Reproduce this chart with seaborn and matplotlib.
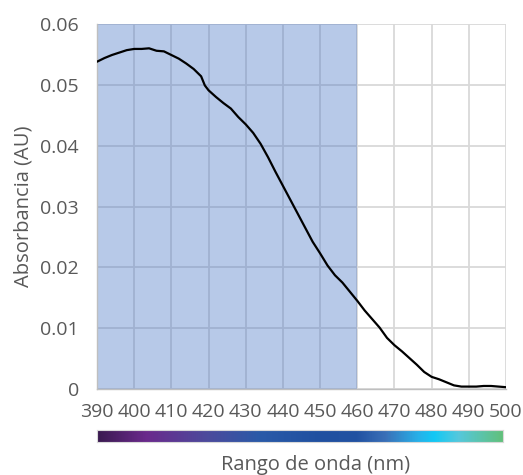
import numpy as np
import pandas as pd
import matplotlib
matplotlib.use("Agg")
import matplotlib.pyplot as plt
from matplotlib.colors import LinearSegmentedColormap
from matplotlib.ticker import MultipleLocator
import seaborn as sns

# data
wavelength = [390, 392, 394, 396, 398, 400, 402, 404, 406, 408, 410, 412, 414, 416,
              418, 419, 420, 422, 424, 426, 428, 430, 432, 434, 436, 438, 440, 442,
              444, 446, 448, 450, 452, 454, 456, 458, 460, 462, 464, 466, 468, 470,
              472, 474, 476, 478, 480, 482, 484, 486, 488, 490, 492, 494, 496, 498, 500]
absorbance = [0.0538, 0.0544, 0.0549, 0.0553, 0.0557, 0.0559, 0.0559, 0.0560, 0.0556,
              0.0555, 0.0549, 0.0543, 0.0535, 0.0526, 0.0514, 0.0499, 0.0491, 0.0480,
              0.0470, 0.0461, 0.0447, 0.0435, 0.0421, 0.0403, 0.0381, 0.0357, 0.0334,
              0.0311, 0.0288, 0.0265, 0.0242, 0.0223, 0.0203, 0.0187, 0.0175, 0.0160,
              0.0145, 0.0129, 0.0115, 0.0101, 0.0084, 0.0072, 0.0062, 0.0051, 0.0040,
              0.0028, 0.0020, 0.0016, 0.0011, 0.0006, 0.0004, 0.0004, 0.0004, 0.0005,
              0.0005, 0.0004, 0.0003]

shade_range = (390, 460)
x_ticks = [390, 400, 410, 420, 430, 440, 450, 460, 470, 480, 490, 500]
y_ticks = [0, 0.01, 0.02, 0.03, 0.04, 0.05, 0.06]
y_labels = ["0", "0.01", "0.02", "0.03", "0.04", "0.05", "0.06"]

# visible spectrum strip under the axis
strip_pos = [0.0, 0.12, 0.27, 0.40, 0.55, 0.64, 0.71, 0.79, 0.83, 0.89, 1.0]
strip_colors = ["#3a1a50", "#6a2a8c", "#4c4a9c", "#2a5aa8", "#2050a0", "#2252a2",
                "#3a70b8", "#28b0e8", "#12c8f5", "#55c8dc", "#62c07a"]

df = pd.DataFrame({"wl": wavelength, "A": absorbance})

sns.set_style("white")
plt.rcParams["font.family"] = ["Open Sans", "DejaVu Sans"]
grey = "#595959"

fig = plt.figure(figsize=(5.23, 4.75), dpi=100)
ax = fig.add_axes([0.1855, 0.181, 0.782, 0.7685])

ax.grid(True, which="major", color="#d9d9d9", linewidth=1.3, zorder=0)
ax.axvspan(*shade_range, color="#4472c4", alpha=0.38, linewidth=0, zorder=1)
sns.lineplot(data=df, x="wl", y="A", ax=ax, color="black", linewidth=1.6, zorder=3)

ax.set_xlim(390, 500)
ax.set_ylim(0, 0.06)
ax.set_xticks(x_ticks)
ax.set_xticklabels([str(t) for t in x_ticks])
ax.set_yticks(y_ticks)
ax.set_yticklabels(y_labels)
ax.xaxis.set_minor_locator(MultipleLocator(2))
ax.yaxis.set_minor_locator(MultipleLocator(0.002))
ax.tick_params(axis="both", which="major", labelsize=14, labelcolor=grey,
               color="#bfbfbf", length=5, width=1, direction="out")
ax.tick_params(axis="both", which="minor", color="#bfbfbf", length=6, width=1,
               direction="inout")
ax.tick_params(axis="x", which="major", pad=5)
ax.tick_params(axis="y", which="major", pad=8)

for s in ["top", "right"]:
    ax.spines[s].set_visible(False)
for s in ["left", "bottom"]:
    ax.spines[s].set_color("#bfbfbf")
    ax.spines[s].set_linewidth(1)

ax.set_xlabel("")
ax.set_ylabel("Absorbancia (AU)", fontsize=14.5, color=grey, labelpad=5)

# colour strip
cax = fig.add_axes([0.1855, 0.0695, 0.777, 0.0253])
cmap = LinearSegmentedColormap.from_list("spec", list(zip(strip_pos, strip_colors)))
cax.imshow(np.linspace(0, 1, 512)[None, :], aspect="auto", cmap=cmap)
cax.set_xticks([])
cax.set_yticks([])
for s in cax.spines.values():
    s.set_color("#d9d9d9")
    s.set_linewidth(0.8)

fig.text(0.604, 0.022, "Rango de onda (nm)", ha="center", va="center",
         fontsize=14.5, color=grey)

fig.savefig("out.png", dpi=100)
